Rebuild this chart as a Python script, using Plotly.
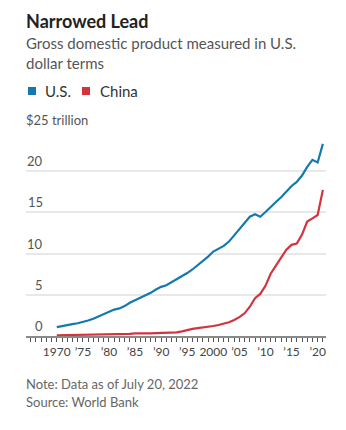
import plotly.graph_objects as go

years = list(range(1970, 2022))
us_gdp = [1.073, 1.165, 1.280, 1.435, 1.549, 1.689, 1.877, 2.086, 2.357, 2.632,
          2.857, 3.207, 3.343, 3.634, 4.037, 4.339, 4.580, 4.855, 5.236, 5.642,
          5.963, 6.158, 6.520, 6.859, 7.287, 7.640, 8.073, 8.578, 9.063, 9.631,
          10.251, 10.582, 10.929, 11.457, 12.217, 13.039, 13.816, 14.474, 14.770, 14.478,
          15.049, 15.600, 16.254, 16.843, 17.551, 18.206, 18.695, 19.477, 20.533, 21.381,
          21.060, 23.315]
china_gdp = [0.093, 0.100, 0.114, 0.139, 0.144, 0.163, 0.154, 0.175, 0.150, 0.178,
             0.191, 0.196, 0.209, 0.230, 0.260, 0.309, 0.301, 0.273, 0.313, 0.348,
             0.361, 0.383, 0.427, 0.445, 0.564, 0.735, 0.864, 0.962, 1.029, 1.094,
             1.211, 1.339, 1.471, 1.660, 1.955, 2.286, 2.752, 3.552, 4.594, 5.102,
             6.087, 7.552, 8.532, 9.570, 10.476, 11.062, 11.233, 12.310, 13.895, 14.280,
             14.688, 17.734]
series_names = ["U.S.", "China"]
colors = ["#1479ad", "#d2333c"]

x_tickvals = [1970, 1975, 1980, 1985, 1990, 1995, 2000, 2005, 2010, 2015, 2020]
x_ticktext = ["1970", "\u201975", "\u201980", "\u201985", "\u201990", "\u201995", "2000",
              "\u201905", "\u201910", "\u201915", "\u201920"]
y_tickvals = [0, 5, 10, 15, 20]
y_ticktext = ["0", "5", "10", "15", "20"]
y_top_label = "$25 trillion"

FONT = "Lato"
PW = 300.0   # plot width in px
PH = 206.0   # plot height in px

def px_x(p):
    return (p - 26) / PW

def px_y(p):
    return (336 - p) / PH

fig = go.Figure()
for name, vals, col in zip(series_names, [us_gdp, china_gdp], colors):
    fig.add_trace(go.Scatter(x=years, y=vals, mode="lines", name=name,
                             line=dict(color=col, width=2.2), showlegend=False,
                             hoverinfo="skip"))

annotations = []
for v, t in zip(y_tickvals, y_ticktext):
    annotations.append(dict(x=px_x(45), xref="paper", y=v, yref="y", text=t,
                            xanchor="right", yanchor="bottom", yshift=0,
                            showarrow=False,
                            font=dict(family=FONT, size=13, color="#555555")))
annotations.append(dict(x=px_x(24), xref="paper", y=25, yref="y", text=y_top_label,
                        xanchor="left", yanchor="bottom", yshift=0, showarrow=False,
                        font=dict(family=FONT, size=13, color="#555555")))

annotations += [
    dict(x=px_x(24), y=px_y(21), xref="paper", yref="paper", xanchor="left",
         yanchor="middle", text="<b>Narrowed Lead</b>", showarrow=False,
         font=dict(family=FONT, size=18, color="#222222")),
    dict(x=px_x(24), y=px_y(53), xref="paper", yref="paper", xanchor="left",
         yanchor="middle", text="Gross domestic product measured in U.S.<br>dollar terms",
         align="left", showarrow=False,
         font=dict(family=FONT, size=15, color="#555555")),
    dict(x=px_x(24), y=px_y(384), xref="paper", yref="paper", xanchor="left",
         yanchor="middle", text="Note: Data as of July 20, 2022", showarrow=False,
         font=dict(family=FONT, size=13, color="#666666")),
    dict(x=px_x(24), y=px_y(402), xref="paper", yref="paper", xanchor="left",
         yanchor="middle", text="Source: World Bank", showarrow=False,
         font=dict(family=FONT, size=13, color="#666666")),
]
# legend text
legend_text_x = [43, 98]
legend_sq_x = [28, 82]
shapes = []
for name, col, tx, sx in zip(series_names, colors, legend_text_x, legend_sq_x):
    annotations.append(dict(x=px_x(tx), y=px_y(91), xref="paper", yref="paper",
                            xanchor="left", yanchor="middle", text=name,
                            showarrow=False,
                            font=dict(family=FONT, size=15, color="#333333")))
    shapes.append(dict(type="rect", xref="paper", yref="paper",
                       x0=px_x(sx), x1=px_x(sx + 8), y0=px_y(95), y1=px_y(87),
                       fillcolor=col, line=dict(width=0)))

fig.update_layout(
    width=346, height=430,
    margin=dict(l=26, r=20, t=130, b=94),
    paper_bgcolor="white", plot_bgcolor="white",
    font=dict(family=FONT, color="#333333"),
    showlegend=False,
    annotations=annotations,
    shapes=shapes,
    xaxis=dict(range=[1964.1, 2021.6], tickvals=x_tickvals, ticktext=x_ticktext,
               tickangle=0,
               showgrid=False, zeroline=False, showline=True, linecolor="#8a8a8a",
               linewidth=2, ticks="outside", ticklen=4, tickwidth=1, tickcolor="#555555",
               tickfont=dict(family=FONT, size=12, color="#444444"),
               minor=dict(dtick=1, tick0=1970, ticks="outside", ticklen=4,
                          tickwidth=1, tickcolor="#555555", showgrid=False),
               fixedrange=True),
    yaxis=dict(range=[0, 25], tickvals=[0, 5, 10, 15, 20, 25], showticklabels=False,
               showgrid=True, gridcolor="#e8e8e8", gridwidth=1.5, zeroline=False,
               showline=False, ticks="", fixedrange=True),
)

fig.write_html("out.html")
